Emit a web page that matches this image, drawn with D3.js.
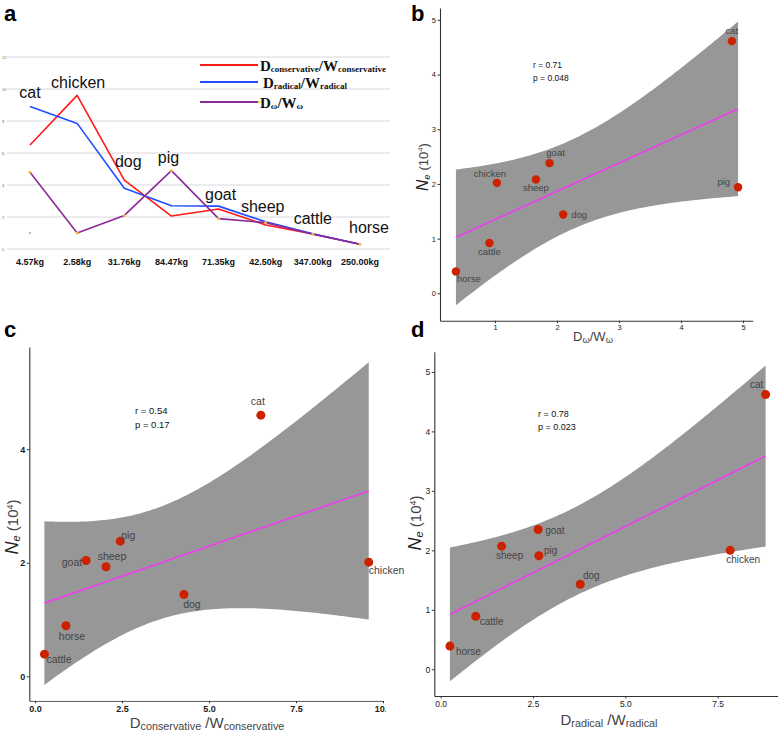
<!DOCTYPE html>
<html><head><meta charset="utf-8">
<script src="https://cdn.jsdelivr.net/npm/d3@7/dist/d3.min.js"></script>
<style>body{margin:0;background:#fff}svg{display:block}</style>
</head><body><svg id="chart" width="778" height="731" font-family="'Liberation Sans',Arial,Helvetica,sans-serif"></svg>
<script>
// ---------- Panel a data ----------
const animalsA = ["cat","chicken","dog","pig","goat","sheep","cattle","horse"];
const weightLabels = ["4.57kg","2.58kg","31.76kg","84.47kg","71.35kg","42.50kg","347.00kg","250.00kg"];
const conservativeA = [6.5, 9.6, 4.3, 2.06, 2.5, 1.5, 0.94, 0.3];
const radicalA = [8.9, 7.85, 3.8, 2.7, 2.68, 1.7, 0.95, 0.3];
const omegaA = [4.8, 1.0, 2.1, 4.9, 1.9, 1.65, 0.92, 0.3];
const yTicksA = [0, 2, 4, 6, 8, 10, 12];
const strayValueA = 1.0; // stray grey marker at "cat"

// ---------- Panel b data (x = Dω/Wω, y = Ne) ----------
const animalsB = ["horse","cattle","chicken","sheep","goat","dog","cat","pig"];
const xB = [0.37, 0.91, 1.03, 1.66, 1.88, 2.1, 4.82, 4.92];
const neB = [0.4, 0.92, 2.02, 2.08, 2.38, 1.44, 4.61, 1.94];
const xTicksB = [1, 2, 3, 4, 5];
const yTicksB = [0, 1, 2, 3, 4, 5];
const statsB = ["r = 0.71", "p = 0.048"];

// ---------- Panel c data (x = Dconservative/Wconservative) ----------
const animalsC = ["cattle","horse","goat","sheep","pig","dog","cat","chicken"];
const xC = [0.27, 0.89, 1.47, 2.04, 2.45, 4.28, 6.49, 9.59];
const neC = [0.39, 0.89, 2.04, 1.93, 2.38, 1.44, 4.6, 2.01];
const xTicksC = [0, 2.5, 5, 7.5, 10];
const yTicksC = [0, 2, 4];
const statsC = ["r = 0.54", "p = 0.17"];

// ---------- Panel d data (x = Dradical/Wradical) ----------
const animalsD = ["horse","cattle","sheep","goat","pig","dog","chicken","cat"];
const xD = [0.25, 0.95, 1.65, 2.64, 2.66, 3.78, 7.84, 8.8];
const neD = [0.39, 0.89, 2.07, 2.35, 1.91, 1.43, 2.0, 4.62];
const xTicksD = [0, 2.5, 5, 7.5];
const yTicksD = [0, 1, 2, 3, 4, 5];
const statsD = ["r = 0.78", "p = 0.023"];

const T975 = 2.447; // t quantile, df = 6

// ---------- layout / style (not data) ----------
const labelPosB = {cat:[0,-7,"middle"], pig:[-8,-2,"end"], goat:[6,-7,"middle"], chicken:[-7,-6,"middle"],
  sheep:[0,11,"middle"], dog:[8,3,"start"], cattle:[0,12,"middle"], horse:[1,11,"start"]};
const labelPosC = {cat:[-3,-10,"middle"], pig:[1,-2,"start"], goat:[-4,6,"end"], sheep:[6,-7,"middle"],
  dog:[8,13,"middle"], horse:[6,14,"middle"], cattle:[2,9,"start"], chicken:[0,12,"start"]};
const labelPosD = {cat:[-9,-7,"middle"], goat:[7,4,"start"], sheep:[8,13,"middle"], pig:[5,-2,"start"],
  dog:[11,-5,"middle"], chicken:[13,13,"middle"], cattle:[4,9,"start"], horse:[6,9,"start"]};
const labelOffA = {cat:[0,-9], chicken:[1,-7], dog:[4,-13], pig:[-3,-8], goat:[2,-6], sheep:[-3,-10], cattle:[0,-10], horse:[9,-11]};
const SERIF = "'Liberation Serif','Times New Roman',serif";

const svg = d3.select("#chart");
svg.append("rect").attr("width",778).attr("height",731).attr("fill","#fff");

// ================= Panel a =================
(function(){
  const g = svg.append("g");
  const x = d3.scalePoint().domain(animalsA).range([30, 360]);
  const y = d3.scaleLinear().domain([0, 12]).range([249, 57]);
  g.selectAll("line.grid").data(yTicksA).join("line")
    .attr("x1", 7).attr("x2", 390).attr("y1", d=>y(d)).attr("y2", d=>y(d))
    .attr("stroke", "#d8d8de").attr("stroke-width", 1);
  g.selectAll("text.yt").data(yTicksA).join("text")
    .attr("x", 2).attr("y", d=>y(d)+1.5).attr("font-size", 4).attr("fill","#666").text(d=>d);
  const series = [
    {vals: conservativeA, color: "#ff1a1a"},
    {vals: radicalA, color: "#1f4dff"},
    {vals: omegaA, color: "#8b2a98"}
  ];
  const line = d3.line().x((d,i)=>x(animalsA[i])).y(d=>y(d));
  series.forEach(s => {
    g.append("path").attr("d", line(s.vals)).attr("fill","none")
      .attr("stroke", s.color).attr("stroke-width", 1.6).attr("stroke-linejoin","round");
  });
  g.selectAll("circle.om").data(omegaA).join("circle")
    .attr("cx",(d,i)=>x(animalsA[i])).attr("cy", d=>y(d)).attr("r",1.5).attr("fill","#f5b942");
  g.append("circle").attr("cx", x("cat")).attr("cy", y(strayValueA)).attr("r",1.1).attr("fill","#aaa");
  g.selectAll("text.an").data(animalsA).join("text")
    .attr("x",(d,i)=>x(d)+labelOffA[d][0])
    .attr("y",(d,i)=>y(Math.max(conservativeA[i],radicalA[i],omegaA[i]))+labelOffA[d][1])
    .attr("text-anchor","middle").attr("font-size",16).attr("fill","#111").text(d=>d);
  g.selectAll("text.wt").data(weightLabels).join("text")
    .attr("x",(d,i)=>x(animalsA[i])).attr("y",265)
    .attr("text-anchor","middle").attr("font-size",9).attr("font-weight","bold").attr("fill","#111").text(d=>d);
  const leg = [
    {c:"#ff1a1a", sub:"conservative", y:65},
    {c:"#1f4dff", sub:"radical", y:82},
    {c:"#8b2a98", sub:"\u03c9", y:102}
  ];
  leg.forEach((l,i) => {
    g.append("line").attr("x1",200).attr("x2",258).attr("y1",l.y).attr("y2",l.y)
      .attr("stroke",l.c).attr("stroke-width",2);
    if (i===2) g.append("line").attr("x1",258).attr("x2",262).attr("y1",l.y).attr("y2",l.y)
      .attr("stroke","#f7e84a").attr("stroke-width",2);
    const t = g.append("text").attr("x", i===1?263:260).attr("y", l.y+5.5)
      .attr("font-family",SERIF).style("font-family",SERIF).attr("font-size",15)
      .attr("font-weight","bold").attr("fill","#111");
    t.append("tspan").text("D");
    t.append("tspan").attr("font-size",9).attr("dy",1).text(l.sub);
    t.append("tspan").attr("dy",-1).text("/W");
    t.append("tspan").attr("font-size",9).attr("dy",1).text(l.sub);
  });
  svg.append("text").attr("x",4).attr("y",21).attr("font-size",22).attr("font-weight","bold").text("a");
})();

// ================= scatter panels =================
function scatter(cfg){
  const g = svg.append("g");
  const x = d3.scaleLinear().domain(cfg.xDomain).range([cfg.left, cfg.right]);
  const y = d3.scaleLinear().domain(cfg.yDomain).range([cfg.bottom, cfg.top]);
  const xs = cfg.xs, ys = cfg.ys, n = xs.length;
  const mx = d3.mean(xs), my = d3.mean(ys);
  let sxx=0, sxy=0, syy=0;
  xs.forEach((v,i)=>{ sxx += (v-mx)*(v-mx); sxy += (v-mx)*(ys[i]-my); syy += (ys[i]-my)*(ys[i]-my); });
  const slope = sxy/sxx, icpt = my - slope*mx;
  const s = Math.sqrt((syy - sxy*sxy/sxx)/(n-2));
  const xmin = d3.min(xs), xmax = d3.max(xs);
  const grid = d3.range(0, 121).map(i => xmin + (xmax-xmin)*i/120);
  const band = grid.map(xv => {
    const fit = icpt + slope*xv;
    const se = s*Math.sqrt(1/n + (xv-mx)*(xv-mx)/sxx);
    return {x:xv, fit, lo: fit - T975*se, hi: fit + T975*se};
  });
  g.append("path").datum(band)
    .attr("d", d3.area().x(d=>x(d.x)).y0(d=>y(d.lo)).y1(d=>y(d.hi)))
    .attr("fill","#979797");
  g.append("path").datum(band)
    .attr("d", d3.line().x(d=>x(d.x)).y(d=>y(d.fit)))
    .attr("fill","none").attr("stroke","#f03cf0").attr("stroke-width",1.6);
  const ya = g.append("g").attr("transform",`translate(${cfg.left},0)`)
    .call(d3.axisLeft(y).tickValues(cfg.yTicks).tickSize(2.5).tickSizeOuter(0).tickFormat(d3.format("d")));
  const xa = g.append("g").attr("transform",`translate(0,${cfg.bottom})`)
    .call(d3.axisBottom(x).tickValues(cfg.xTicks).tickSize(2.5).tickSizeOuter(0).tickFormat(cfg.xFormat));
  [ya, xa].forEach(a => {
    a.attr("font-family",null);
    a.select(".domain").attr("stroke","#333").attr("stroke-width",1.1);
    a.selectAll(".tick line").attr("stroke","#333");
    a.selectAll(".tick text").attr("font-size",cfg.tickFont).attr("fill","#1a1a1a")
      .attr("font-weight",cfg.tickWeight||"normal");
  });
  ya.selectAll(".tick text").attr("x",-4);
  xa.selectAll(".tick text").attr("y",cfg.xTickDy);
  if (cfg.clipX) {
    svg.append("clipPath").attr("id","clipx").append("rect").attr("x",0).attr("y",0).attr("width",cfg.clipX).attr("height",731);
    xa.attr("clip-path","url(#clipx)");
  }
  g.selectAll("circle.pt").data(xs).join("circle")
    .attr("cx", d=>x(d)).attr("cy",(d,i)=>y(ys[i])).attr("r",cfg.r).attr("fill","#cc2200");
  g.selectAll("text.lab").data(cfg.names).join("text")
    .attr("x",(d,i)=>x(xs[i])+cfg.lpos[d][0]).attr("y",(d,i)=>y(ys[i])+cfg.lpos[d][1])
    .attr("text-anchor",d=>cfg.lpos[d][2]).attr("font-size",cfg.labFont).attr("fill","#444").text(d=>d);
  cfg.stats.forEach((t,i)=>{
    g.append("text").attr("x",cfg.statX).attr("y",cfg.statY + i*cfg.statGap)
      .attr("font-size",cfg.statFont).attr("fill","#111").text(t);
  });
  const xl = g.append("text").attr("x",cfg.xlabX).attr("y",cfg.xlabY).attr("text-anchor","middle")
    .attr("font-size",cfg.xlabFont).attr("fill","#444");
  xl.append("tspan").text("D");
  xl.append("tspan").attr("font-size",cfg.xlabFont*0.72).attr("dy",2).text(cfg.sub);
  xl.append("tspan").attr("dy",-2).text(cfg.slash);
  xl.append("tspan").attr("font-size",cfg.xlabFont*0.72).attr("dy",2).text(cfg.sub);
  const yl = g.append("text").attr("transform",`translate(${cfg.ylabX},${cfg.ylabY}) rotate(-90)`)
    .attr("text-anchor","middle").attr("font-size",cfg.ylabFont).attr("fill","#222");
  yl.append("tspan").attr("font-style","italic").attr("font-size",cfg.ylabFont*1.2).text("N");
  yl.append("tspan").attr("font-style","italic").attr("font-size",cfg.ylabFont*0.75).attr("dy",2).text("e");
  yl.append("tspan").attr("dy",-2).attr("fill","#444").text(" (10");
  yl.append("tspan").attr("font-size",cfg.ylabFont*0.6).attr("dy",-5).attr("fill","#444").text("4");
  yl.append("tspan").attr("dy",5).attr("fill","#444").text(")");
  svg.append("text").attr("x",cfg.letterX).attr("y",cfg.letterY).attr("font-size",22)
    .attr("font-weight","bold").text(cfg.letter);
}

scatter({letter:"b", letterX:411, letterY:21,
  xs:xB, ys:neB, names:animalsB, lpos:labelPosB,
  left:440, right:752.7, top:8, bottom:320.7,
  xDomain:[0.113, 5.156], yDomain:[-0.5, 5.216],
  xTicks:xTicksB, yTicks:yTicksB, xFormat:d3.format("d"), tickFont:7.5, xTickDy:4,
  r:4.2, labFont:9.5, stats:statsB, statX:533, statY:68, statGap:12.5, statFont:8.5,
  xlabX:593, xlabY:341, xlabFont:13, sub:"\u03c9", slash:"/W",
  ylabX:428, ylabY:167, ylabFont:13});

scatter({letter:"c", letterX:4, letterY:337,
  xs:xC, ys:neC, names:animalsC, lpos:labelPosC,
  left:29.3, right:383, top:347, bottom:700.7,
  xDomain:[-0.164, 10.0], yDomain:[-0.43, 5.8],
  xTicks:xTicksC, yTicks:yTicksC, xFormat:d3.format(".1f"), tickFont:9, xTickDy:5, tickWeight:"bold",
  r:4.5, labFont:10.5, stats:statsC, statX:135, statY:414, statGap:13.5, statFont:9.5,
  xlabX:207, xlabY:728, xlabFont:15, sub:"conservative", slash:" /W",
  ylabX:18, ylabY:527, ylabFont:15, clipX:386});

scatter({letter:"d", letterX:411, letterY:337,
  xs:xD, ys:neD, names:animalsD, lpos:labelPosD,
  left:434.3, right:780, top:351.7, bottom:696,
  xDomain:[-0.173, 9.19], yDomain:[-0.449, 5.34],
  xTicks:xTicksD, yTicks:yTicksD, xFormat:d3.format(".1f"), tickFont:8.5, xTickDy:5,
  r:4.5, labFont:10, stats:statsD, statX:538, statY:417, statGap:12.8, statFont:9,
  xlabX:609, xlabY:725, xlabFont:15, sub:"radical", slash:" /W",
  ylabX:421, ylabY:523, ylabFont:15});
</script></body></html>
